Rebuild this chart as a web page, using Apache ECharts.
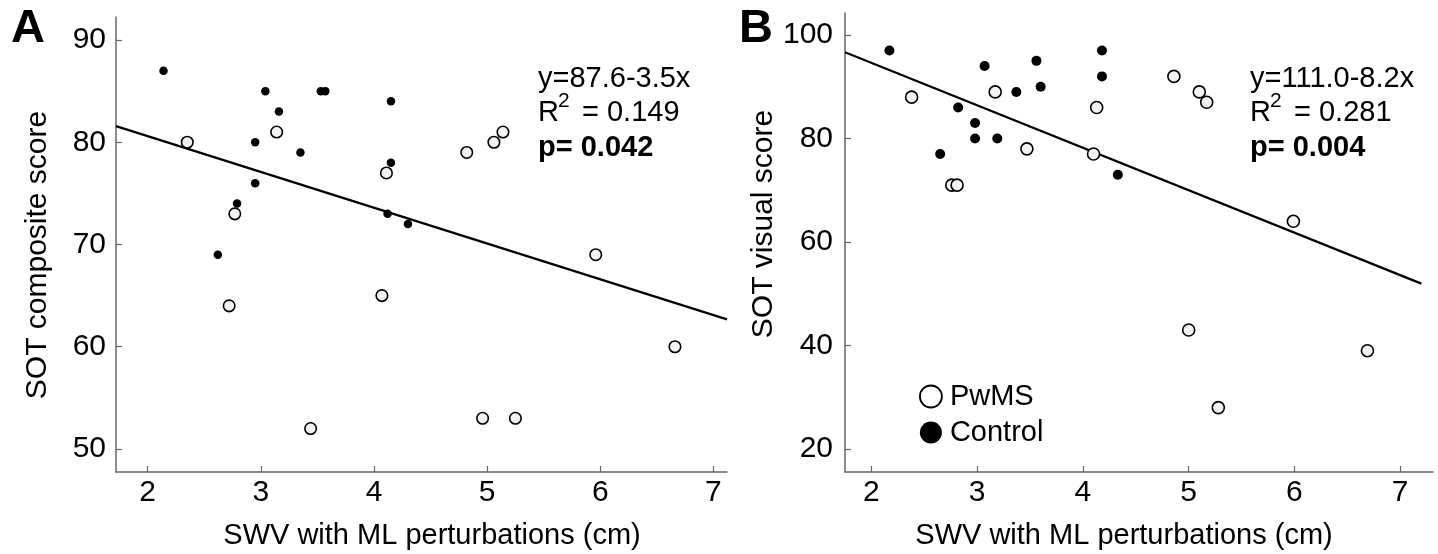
<!DOCTYPE html>
<html><head><meta charset="utf-8">
<script src="https://cdn.jsdelivr.net/npm/echarts@6/dist/echarts.min.js"></script>
<style>html,body{margin:0;padding:0;background:#fff}#c{width:1438px;height:554px}</style>
</head><body><div id="c"></div>
<script>
// ---- data ----
const xTicks = [2, 3, 4, 5, 6, 7];
const yTicksA = [50, 60, 70, 80, 90];
const yTicksB = [20, 40, 60, 80, 100];

const aPwmsX = [2.35, 3.14, 2.77, 2.72, 3.44, 4.11, 4.82, 5.06, 5.14, 5.96, 4.07, 4.96, 5.25, 6.66];
const aPwmsY = [80, 81, 73, 64, 52, 77, 79, 80, 81, 69, 65, 53, 53, 60];
const aCtrlX = [2.14, 3.04, 3.16, 2.95, 3.35, 3.53, 3.57, 2.95, 2.79, 2.62, 4.15, 4.15, 4.12, 4.30];
const aCtrlY = [87, 85, 83, 80, 79, 85, 85, 76, 74, 69, 84, 78, 73, 72];

const bPwmsX = [2.38, 3.17, 3.47, 2.76, 2.81, 4.13, 4.86, 5.10, 5.17, 4.10, 5.99, 5.00, 6.69, 5.28];
const bPwmsY = [88, 89, 78, 71, 71, 86, 92, 89, 87, 77, 64, 43, 39, 28];
const bCtrlX = [2.17, 3.07, 3.37, 3.60, 3.56, 2.82, 2.98, 2.98, 3.19, 2.65, 4.18, 4.18, 4.33];
const bCtrlY = [97, 94, 89, 90, 95, 86, 83, 80, 80, 77, 97, 92, 73];

// regression: [intercept, slope], drawn over [xStart, xEnd]
const fitA = [87.6, -3.5];
const fitRangeA = [1.72, 7.12];
const fitB = [111.0, -8.2];
const fitRangeB = [1.75, 7.2];

const statsA = ['y=87.6-3.5x', 'R', '2', '= 0.149', 'p= 0.042'];
const statsB = ['y=111.0-8.2x', 'R', '2', '= 0.281', 'p= 0.004'];
const seriesNames = ['PwMS', 'Control'];
const xTitle = 'SWV with ML perturbations (cm)';
const yTitleA = 'SOT composite score';
const yTitleB = 'SOT visual score';

// ---- build ----
const FONT = '"Liberation Sans", Arial, Helvetica, sans-serif';
const INK = '#000';
const zip = (xs, ys) => xs.map((x, i) => [x, ys[i]]);
const fitLine = (f, r) => r.map(x => [x, f[0] + f[1] * x]);

function xAxis(gi, min, max, pad) {
  return {
    type: 'value', gridIndex: gi, min: min, max: max,
    name: xTitle, nameLocation: 'middle', nameGap: 49,
    nameTextStyle: { fontSize: 29, color: INK, fontFamily: FONT, padding: pad },
    axisLine: { show: true, onZero: false, lineStyle: { color: '#666', width: 1.5 } },
    axisTick: { show: true, inside: true, length: 6, customValues: xTicks, lineStyle: { color: '#666', width: 1.2 } },
    axisLabel: { customValues: xTicks, fontSize: 30, color: INK, margin: 6, fontFamily: FONT },
    splitLine: { show: false }
  };
}
function yAxis(gi, min, max, ticks, title, gap, pad, margin) {
  return {
    type: 'value', gridIndex: gi, min: min, max: max,
    name: title, nameLocation: 'middle', nameGap: gap,
    nameTextStyle: { fontSize: 30, color: INK, fontFamily: FONT, padding: pad },
    axisLine: { show: true, onZero: false, lineStyle: { color: '#666', width: 1.5 } },
    axisTick: { show: true, inside: true, length: 6, customValues: ticks, lineStyle: { color: '#666', width: 1.2 } },
    axisLabel: { customValues: ticks, fontSize: 30, color: INK, margin: margin, fontFamily: FONT },
    splitLine: { show: false }
  };
}
const openStyle = { color: '#f2f2f2', borderColor: '#000', borderWidth: 1.6, opacity: 1 };
const fillStyle = { color: '#000', opacity: 1 };

function statText(st, x0) {
  const base = { fill: INK, fontFamily: FONT, verticalAlign: 'middle', align: 'left' };
  return [
    { type: 'text', x: x0, y: 79, style: Object.assign({ text: st[0], fontSize: 29 }, base) },
    { type: 'text', x: x0, y: 113, style: Object.assign({ text: st[1], fontSize: 29 }, base) },
    { type: 'text', x: x0 + 20, y: 101, style: Object.assign({ text: st[2], fontSize: 21 }, base) },
    { type: 'text', x: x0 + 44, y: 113, style: Object.assign({ text: st[3], fontSize: 29 }, base) },
    { type: 'text', x: x0, y: 148, style: Object.assign({ text: st[4], fontSize: 29, fontWeight: 'bold' }, base) }
  ];
}

const option = {
  animation: false,
  backgroundColor: '#fff',
  grid: [
    { left: 116, top: 17, width: 611, height: 455, containLabel: false, outerBoundsMode: 'none' },
    { left: 845, top: 13, width: 588, height: 459, containLabel: false, outerBoundsMode: 'none' }
  ],
  xAxis: [ xAxis(0, 1.72, 7.12, [0, 0, 0, 21]), xAxis(1, 1.75, 7.31, [0, 30, 0, 0]) ],
  yAxis: [
    yAxis(0, 47.75, 92.25, yTicksA, yTitleA, 63, [0, 21, 0, 0], 10),
    yAxis(1, 15.56, 104.25, yTicksB, yTitleB, 60, [0, 0, 0, 37], 12)
  ],
  legend: {
    data: [
      { name: seriesNames[0], itemStyle: { color: '#fff', borderColor: '#000', borderWidth: 1.8, opacity: 1 } },
      { name: seriesNames[1], itemStyle: { color: '#000', opacity: 1 } }
    ],
    orient: 'vertical', left: 919, top: 382, padding: 0,
    itemWidth: 22, itemHeight: 22, itemGap: 7, icon: 'circle',
    textStyle: { fontSize: 29, color: INK, fontFamily: FONT, padding: [0, 0, 0, 3] }
  },
  series: [
    { type: 'line', xAxisIndex: 0, yAxisIndex: 0, data: fitLine(fitA, fitRangeA), showSymbol: false, symbol: 'none', lineStyle: { color: '#000', width: 2.2 }, silent: true, z: 1 },
    { type: 'line', xAxisIndex: 1, yAxisIndex: 1, data: fitLine(fitB, fitRangeB), showSymbol: false, symbol: 'none', lineStyle: { color: '#000', width: 2.2 }, silent: true, z: 1 },
    { name: seriesNames[0], type: 'scatter', xAxisIndex: 0, yAxisIndex: 0, data: zip(aPwmsX, aPwmsY), symbolSize: 11.5, itemStyle: openStyle, z: 3 },
    { name: seriesNames[1], type: 'scatter', xAxisIndex: 0, yAxisIndex: 0, data: zip(aCtrlX, aCtrlY), symbolSize: 8.5, itemStyle: fillStyle, z: 3 },
    { name: seriesNames[0], type: 'scatter', xAxisIndex: 1, yAxisIndex: 1, data: zip(bPwmsX, bPwmsY), symbolSize: 12, itemStyle: openStyle, z: 3 },
    { name: seriesNames[1], type: 'scatter', xAxisIndex: 1, yAxisIndex: 1, data: zip(bCtrlX, bCtrlY), symbolSize: 10, itemStyle: fillStyle, z: 3 }
  ],
  graphic: [
    { type: 'text', x: 11, y: 29, style: { text: 'A', fontSize: 47, fontWeight: 'bold', fontFamily: FONT, fill: INK, verticalAlign: 'middle' } },
    { type: 'text', x: 739, y: 29, style: { text: 'B', fontSize: 47, fontWeight: 'bold', fontFamily: FONT, fill: INK, verticalAlign: 'middle' } }
  ].concat(statText(statsA, 538), statText(statsB, 1250))
};
const chart = echarts.init(document.getElementById('c'), null, { renderer: 'canvas' });
chart.setOption(option);
</script>
</body></html>
